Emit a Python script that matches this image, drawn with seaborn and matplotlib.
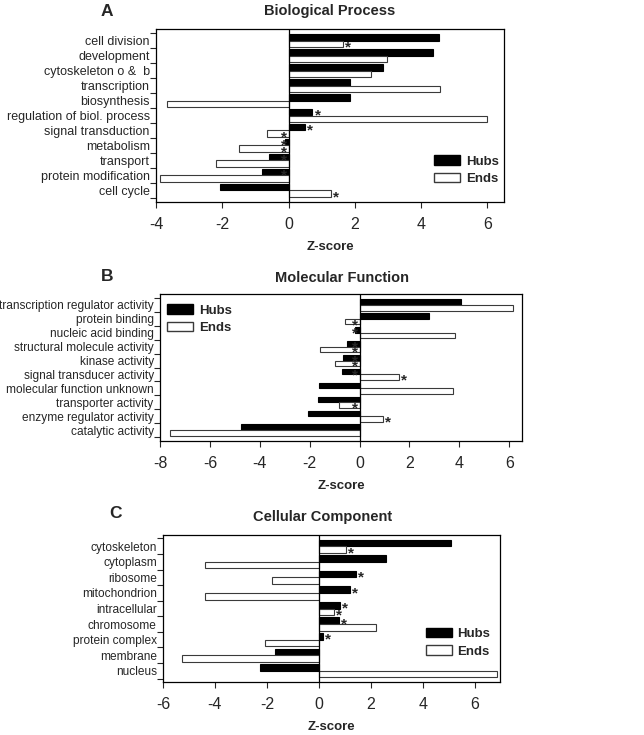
import numpy as np
import pandas as pd
import matplotlib
matplotlib.use("Agg")
import matplotlib.pyplot as plt
import seaborn as sns
from matplotlib.patches import Patch

sns.set_style("ticks")
plt.rcParams['font.family'] = ['Liberation Sans', 'DejaVu Sans']
plt.rcParams['axes.unicode_minus'] = False

# A - Biological Process
bp_terms = ["cell division", "development", "cytoskeleton o &  b", "transcription",
            "biosynthesis", "regulation of biol. process", "signal transduction",
            "metabolism", "transport", "protein modification", "cell cycle"]
bp_hubs = [4.55, 4.37, 2.84, 1.86, 1.86, 0.72, 0.50, -0.11, -0.60, -0.80, -2.06]
bp_ends = [1.63, 2.96, 2.48, 4.57, -3.66, 5.98, -0.66, -1.49, -2.18, -3.87, 1.27]
bp_hubs_star = [0, 0, 0, 0, 0, 1, 1, 1, 1, 1, 0]
bp_ends_star = [1, 0, 0, 0, 0, 0, 1, 1, 0, 0, 1]

# B - Molecular Function
mf_terms = ["transcription regulator activity", "protein binding", "nucleic acid binding",
            "structural molecule activity", "kinase activity", "signal transducer activity",
            "molecular function unknown", "transporter activity", "enzyme regulator activity",
            "catalytic activity"]
mf_hubs = [4.06, 2.78, -0.17, -0.49, -0.68, -0.72, -1.63, -1.66, -2.07, -4.75]
mf_ends = [6.14, -0.57, 3.81, -1.59, -0.98, 1.59, 3.74, -0.83, 0.95, -7.59]
mf_hubs_star = [0, 0, 1, 1, 1, 1, 0, 0, 0, 0]
mf_ends_star = [0, 1, 0, 1, 1, 1, 0, 1, 1, 0]

# C - Cellular Component
cc_terms = ["cytoskeleton", "cytoplasm", "ribosome", "mitochondrion", "intracellular",
            "chromosome", "protein complex", "membrane", "nucleus"]
cc_hubs = [5.09, 2.59, 1.43, 1.21, 0.80, 0.78, 0.17, -1.68, -2.25]
cc_ends = [1.04, -4.37, -1.79, -4.37, 0.60, 2.19, -2.06, -5.25, 6.86]
cc_hubs_star = [0, 0, 1, 1, 1, 1, 1, 0, 0]
cc_ends_star = [1, 0, 0, 0, 1, 0, 0, 0, 0]

W, H = 644, 735
fig = plt.figure(figsize=(W / 100, H / 100), dpi=100)


def px_axes(left, top, right, bottom):
    return fig.add_axes([left / W, 1 - bottom / H, (right - left) / W, (bottom - top) / H])


def panel(ax, terms, hubs, ends, hstar, estar, xlim, xticks, width, pad, leg_xy, lab_size):
    n = len(terms)
    df = pd.DataFrame({
        "term": terms * 2,
        "group": ["Hubs"] * n + ["Ends"] * n,
        "z": hubs + ends,
    })
    sns.barplot(data=df, y="term", x="z", hue="group", hue_order=["Hubs", "Ends"],
                palette={"Hubs": "black", "Ends": "white"}, orient="h", width=width,
                dodge=True, edgecolor="black", linewidth=0.8, legend=False, ax=ax)
    for bar in ax.containers[1]:
        bar.set_edgecolor("#3a3a3a")
    # significance stars
    for cont, flags in zip(ax.containers, [hstar, estar]):
        for bar, f in zip(cont, flags):
            if not f:
                continue
            if bar.get_width() >= 0:
                v = bar.get_x() + bar.get_width()
                off, ha = 1.5, "left"
            else:
                v = bar.get_x()
                off, ha = -1.5, "right"
            yc = bar.get_y() + bar.get_height() / 2
            ax.annotate("*", (v, yc), xytext=(off, -2.5), textcoords="offset points",
                        ha=ha, va="center", fontsize=11, fontweight="bold")
    ax.axvline(0, color="black", lw=0.9)
    ax.set_xlim(*xlim)
    ax.set_xticks(xticks)
    ax.set_ylim(n - 1 + pad, -pad)
    ax.set_yticks(range(n))
    ax.set_yticklabels(terms)
    ax.set_yticks(np.arange(n + 1) - 0.5, minor=True)
    ax.tick_params(axis="y", which="major", length=0, pad=4.5, labelsize=lab_size)
    ax.tick_params(axis="y", which="minor", length=4, width=0.8, direction="out")
    ax.tick_params(axis="x", length=4, width=0.8, direction="out", pad=6.5, labelsize=11.5)
    ax.set_ylabel("")
    ax.set_xlabel("Z-score", fontsize=9.5, fontweight="bold", labelpad=7)
    for s in ax.spines.values():
        s.set_visible(True)
        s.set_linewidth(0.9)
        s.set_color("black")
    handles = [Patch(facecolor="black", edgecolor="black", label="Hubs"),
               Patch(facecolor="white", edgecolor="#3a3a3a", label="Ends")]
    ax.legend(handles=handles, loc="upper left", bbox_to_anchor=leg_xy, frameon=False,
              borderpad=0, borderaxespad=0, handlelength=1.95, handleheight=0.72,
              handletextpad=0.45, labelspacing=0.4,
              prop={"weight": "bold", "size": 9.5})


axA = px_axes(156, 29, 504, 202)
panel(axA, bp_terms, bp_hubs, bp_ends, bp_hubs_star, bp_ends_star,
      (-4, 6.5), [-4, -2, 0, 2, 4, 6], 0.83, 0.77, (0.80, 0.27), 9)
axB = px_axes(160, 294, 522, 441)
panel(axB, mf_terms, mf_hubs, mf_ends, mf_hubs_star, mf_ends_star,
      (-8, 6.51), [-8, -6, -4, -2, 0, 2, 4, 6], 0.8, 0.79, (0.02, 0.93), 8.6)
axC = px_axes(163, 535, 500, 682)
panel(axC, cc_terms, cc_hubs, cc_ends, cc_hubs_star, cc_ends_star,
      (-6, 6.98), [-6, -4, -2, 0, 2, 4, 6], 0.85, 0.72, (0.78, 0.37), 8.6)

# panel letters and titles
for letter, lx, ly, title, tx, ty in [("A", 107, 11, "Biological Process", 330, 11),
                                      ("B", 107, 277, "Molecular Function", 342, 278),
                                      ("C", 115, 514, "Cellular Component", 323, 517)]:
    fig.text(lx / W, 1 - ly / H, letter, ha="center", va="center",
             fontsize=12.5, fontweight="bold")
    fig.text(tx / W, 1 - ty / H, title, ha="center", va="center",
             fontsize=10.5, fontweight="bold")

fig.savefig("out.png", dpi=100)
